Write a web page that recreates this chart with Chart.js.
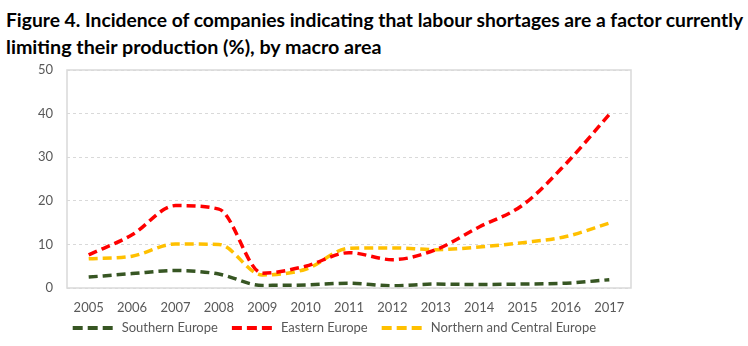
<!DOCTYPE html>
<html lang="en">
<head>
    <meta charset="UTF-8" />
    <title>Labour shortages by macro area</title>
    <script src="https://cdn.jsdelivr.net/npm/chart.js"></script>
    <style>
        body { margin: 0; background: #fff; overflow: hidden; }
        .title {
            position: absolute; left: 6px;
            font-family: Lato, "Open Sans", sans-serif;
            font-weight: bold; font-size: 19px; line-height: 27px; color: #000;
            white-space: nowrap; transform-origin: 0 0;
        }
        .chart-box { position: absolute; left: 0; top: 58px; width: 748px; height: 295px; }
    </style>
</head>
<body>
    <div class="title" id="title1" style="top: 6px">Figure 4. Incidence of companies indicating that labour shortages are a factor currently</div>
    <div class="title" id="title2" style="top: 33px">limiting their production (%), by macro area</div>
    <div class="chart-box"><canvas id="shortageChart"></canvas></div>

    <script>
    // data
    const years = ['2005', '2006', '2007', '2008', '2009', '2010', '2011', '2012', '2013', '2014', '2015', '2016', '2017'];
    const southern = [2.5, 3.3, 4.0, 3.2, 0.6, 0.7, 1.1, 0.5, 0.9, 0.8, 0.9, 1.1, 1.9];
    const eastern = [7.6, 12.2, 18.9, 18.1, 3.4, 5.0, 8.1, 6.5, 8.8, 14.0, 19.0, 28.5, 39.8];
    const northern = [6.7, 7.3, 10.1, 10.0, 3.0, 4.3, 9.1, 9.2, 8.8, 9.4, 10.4, 11.8, 14.9];

    const fontFamily = 'Lato, "Open Sans", sans-serif';

    // the original title font is narrower, squeeze each line to its width
    function squeeze(id, w) {
        const el = document.getElementById(id);
        el.style.transform = 'scaleX(' + (w / el.offsetWidth) + ')';
    }
    squeeze('title1', 737);
    squeeze('title2', 376);

    // light grey frame round the plot area
    const plotFrame = {
        id: 'plotFrame',
        afterDraw(chart) {
            const a = chart.chartArea, c = chart.ctx;
            c.save();
            c.strokeStyle = '#d9d9d9';
            c.lineWidth = 1.5;
            c.strokeRect(a.left, a.top, a.right - a.left, a.bottom - a.top);
            c.restore();
        }
    };

    // legend sits a bit to the right and tucked up under the year labels
    const legendPlace = {
        id: 'legendPlace',
        afterLayout(chart) {
            const lg = chart.legend;
            const h = lg.bottom - lg.top;
            lg.left = 58.7;
            lg.top = 249.5;
            lg.bottom = 249.5 + h;
        }
    };

    function serie(label, data, color) {
        return {
            label: label,
            data: data,
            borderColor: color,
            backgroundColor: 'transparent',
            borderWidth: 3.5,
            borderDash: [9, 5],
            pointRadius: 0,
            cubicInterpolationMode: 'monotone',
            fill: false
        };
    }

    const ctx = document.getElementById('shortageChart').getContext('2d');
    new Chart(ctx, {
        type: 'line',
        data: {
            labels: years,
            datasets: [
                serie('Southern Europe', southern, '#375623'),
                serie('Eastern Europe', eastern, '#ff0000'),
                serie('Northern and Central Europe', northern, '#ffc000')
            ]
        },
        options: {
            responsive: true,
            maintainAspectRatio: false,
            animation: false,
            layout: { padding: { left: 38, right: 117, top: 12, bottom: 0 } },
            plugins: {
                tooltip: { enabled: false },
                legend: {
                    position: 'bottom',
                    align: 'start',
                    labels: {
                        // 42.5 wide box + [10,5] dash gives three clean dashes
                        boxWidth: 42.5,
                        boxHeight: 0,
                        padding: 14,
                        color: '#595959',
                        font: { family: fontFamily, size: 13 },
                        generateLabels(chart) {
                            return chart.data.datasets.map((ds, i) => ({
                                text: ds.label,
                                fillStyle: 'transparent',
                                strokeStyle: ds.borderColor,
                                lineWidth: 4,
                                lineDash: [10, 5],
                                fontColor: '#595959',
                                datasetIndex: i
                            }));
                        }
                    }
                }
            },
            scales: {
                x: {
                    offset: true,
                    grid: { display: false, drawTicks: false },
                    border: { display: false },
                    ticks: { color: '#595959', font: { family: fontFamily, size: 13 }, padding: 12, maxRotation: 0 },
                    afterFit(scale) { scale.height = 28; }
                },
                y: {
                    min: 0,
                    max: 50,
                    ticks: { stepSize: 10, color: '#595959', font: { family: fontFamily, size: 13 }, padding: 14 },
                    grid: { color: '#d9d9d9', drawTicks: false },
                    border: { display: false, dash: [3, 3] },
                    afterFit(scale) {
                        scale.width = 29;
                        scale.paddingTop = 0;
                        scale.paddingBottom = 0;
                    }
                }
            }
        },
        plugins: [plotFrame, legendPlace]
    });
    </script>
</body>
</html>
